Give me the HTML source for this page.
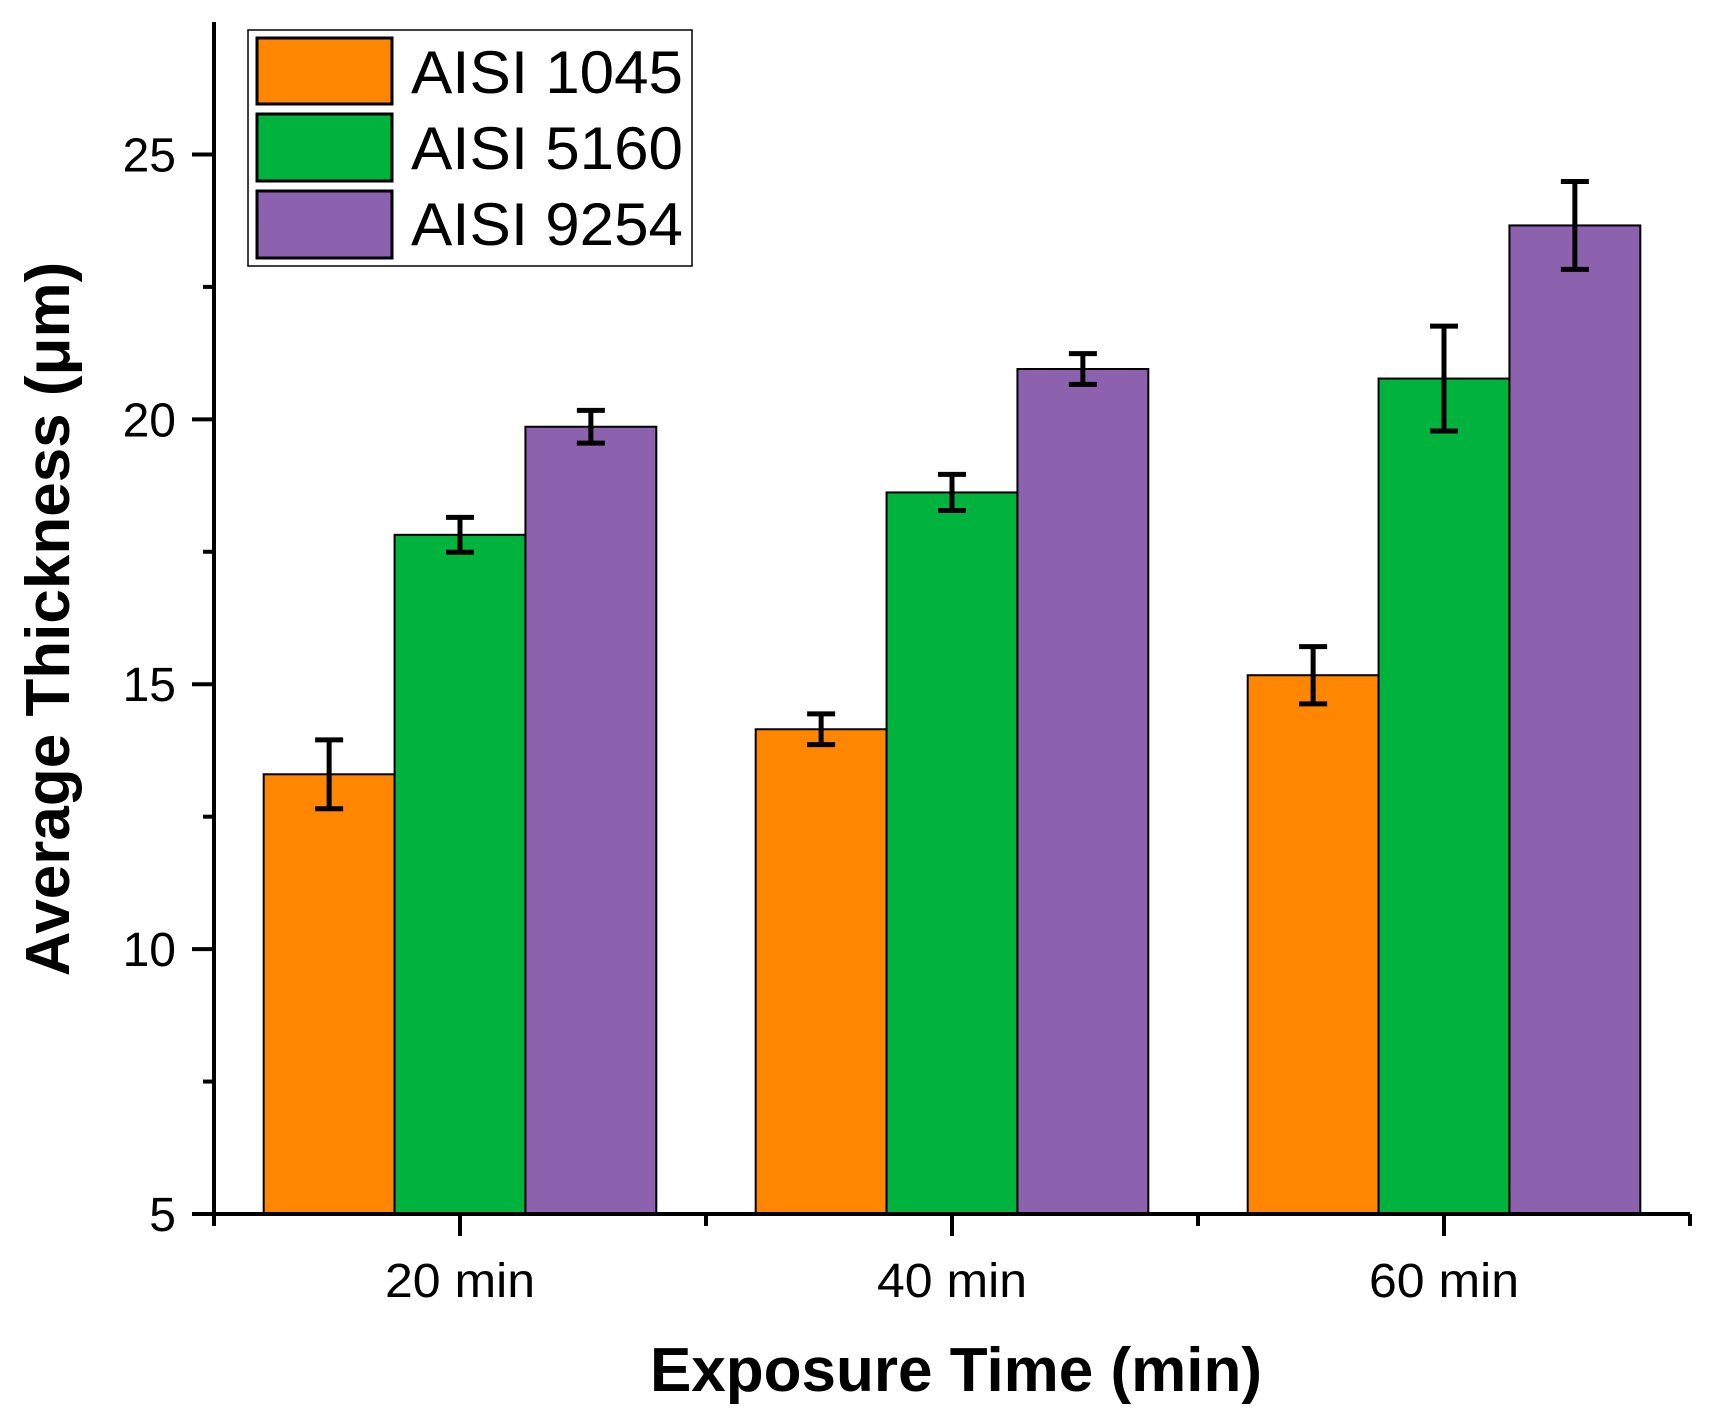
<!DOCTYPE html>
<html><head><meta charset="utf-8"><style>
html,body{margin:0;padding:0;background:#fff;}
svg{display:block;font-family:"Liberation Sans",Arial,sans-serif;}
</style></head><body>
<svg id="chart" width="1710" height="1419" viewBox="0 0 1710 1419" xmlns="http://www.w3.org/2000/svg">
<rect x="0" y="0" width="1710" height="1419" fill="#fff"/>
<g id="plot"></g>
<g id="axes"></g>
<text x="956" y="1391" text-anchor="middle" font-size="62" font-weight="bold">Exposure Time (min)</text>
<text transform="translate(69,619) rotate(-90)" text-anchor="middle" font-size="62" font-weight="bold">Average Thickness (μm)</text>
<g>
<rect x="248" y="30" width="444" height="236" fill="#fff" stroke="#000" stroke-width="1.5"/>
<rect x="257" y="38" width="135" height="66" fill="#FF8601" stroke="#000" stroke-width="3"/>
<text x="411" y="93" font-size="60" textLength="272" lengthAdjust="spacingAndGlyphs">AISI 1045</text>
<rect x="257" y="114" width="135" height="67" fill="#00B33C" stroke="#000" stroke-width="3"/>
<text x="411" y="169" font-size="60" textLength="272" lengthAdjust="spacingAndGlyphs">AISI 5160</text>
<rect x="257" y="191" width="135" height="67" fill="#8C61AD" stroke="#000" stroke-width="3"/>
<text x="411" y="245" font-size="60" textLength="272" lengthAdjust="spacingAndGlyphs">AISI 9254</text>
</g>
</svg>
<script>
const categories = ["20 min", "40 min", "60 min"];
const seriesNames = ["AISI 1045", "AISI 5160", "AISI 9254"];
const aisi1045 = [13.3, 14.15, 15.17];
const aisi5160 = [17.82, 18.62, 20.77];
const aisi9254 = [19.86, 20.95, 23.66];
const err1045 = [0.65, 0.29, 0.54];
const err5160 = [0.33, 0.34, 0.99];
const err9254 = [0.31, 0.29, 0.83];
const yTicks = [5, 10, 15, 20, 25];
const yTickLabels = ["5", "10", "15", "20", "25"];

const NS = "http://www.w3.org/2000/svg";
const X0 = 214, X1 = 1690, Y0 = 1214, YTOP = 22;
const yMin = 5, yMax = 27.5;
const colors = ["#FF8601", "#00B33C", "#8C61AD"];
function yScale(v){ return Y0 - (v - yMin) / (yMax - yMin) * (Y0 - YTOP); }
function xBand(i){ return X0 + (i + 0.5) * (X1 - X0) / categories.length; }
const slot = (X1 - X0) / categories.length;
const barW = slot * 0.266;
function mk(tag, attrs, parent){
  const e = document.createElementNS(NS, tag);
  for (const k in attrs) e.setAttribute(k, attrs[k]);
  parent.appendChild(e);
  return e;
}
const plot = document.getElementById('plot');
const axes = document.getElementById('axes');
const vals = [aisi1045, aisi5160, aisi9254];
const errs = [err1045, err5160, err9254];
const keys = ["aisi-1045", "aisi-5160", "aisi-9254"];
for (let s = 0; s < 3; s++) {
  for (let i = 0; i < categories.length; i++) {
    const cx = xBand(i) + (s - 1) * barW;
    const top = yScale(vals[s][i]);
    const r = mk('rect', {x: cx - barW/2, y: top, width: barW, height: Y0 - top, fill: colors[s], stroke: '#000', 'stroke-width': 2}, plot);
    
    
  }
}
for (let s = 0; s < 3; s++) {
  for (let i = 0; i < categories.length; i++) {
    const cx = xBand(i) + (s - 1) * barW;
    const hi = yScale(vals[s][i] + errs[s][i]);
    const lo = yScale(vals[s][i] - errs[s][i]);
    const g = mk('g', {stroke: '#000', 'stroke-width': 5}, plot);
    
    
    mk('line', {x1: cx, x2: cx, y1: hi, y2: lo}, g);
    mk('line', {x1: cx - 14, x2: cx + 14, y1: hi, y2: hi}, g);
    mk('line', {x1: cx - 14, x2: cx + 14, y1: lo, y2: lo}, g);
  }
}
const ya = mk('line', {x1: X0, x2: X0, y1: YTOP, y2: Y0 + 12, stroke: '#000', 'stroke-width': 4}, axes);


const xa = mk('line', {x1: X0 - 2, x2: X1, y1: Y0, y2: Y0, stroke: '#000', 'stroke-width': 4}, axes);


for (let k = 0; k < yTicks.length; k++) {
  const y = yScale(yTicks[k]);
  const t = mk('line', {x1: X0 - 22, x2: X0, y1: y, y2: y, stroke: '#000', 'stroke-width': 4}, axes);
  
  
  const lb = mk('text', {x: X0 - 38, y: y + 17, 'text-anchor': 'end', 'font-size': 48}, axes);
  lb.textContent = yTickLabels[k];
  
  
  const m = yTicks[k] + 2.5;
  if (m < yMax) {
    const my = yScale(m);
    const mt = mk('line', {x1: X0 - 11, x2: X0, y1: my, y2: my, stroke: '#000', 'stroke-width': 4}, axes);
    
    
  }
}
for (let i = 0; i < categories.length; i++) {
  const x = xBand(i);
  const t = mk('line', {x1: x, x2: x, y1: Y0, y2: Y0 + 22, stroke: '#000', 'stroke-width': 4}, axes);
  
  
  const lb = mk('text', {x: x, y: 1297, 'text-anchor': 'middle', 'font-size': 48, textLength: 150, lengthAdjust: 'spacingAndGlyphs'}, axes);
  lb.textContent = categories[i];
  
  
}
for (let i = 0; i <= categories.length; i++) {
  const x = X0 + i * slot;
  const mt = mk('line', {x1: x, x2: x, y1: Y0, y2: Y0 + 12, stroke: '#000', 'stroke-width': 4}, axes);
  
  
}
</script>
</body></html>
